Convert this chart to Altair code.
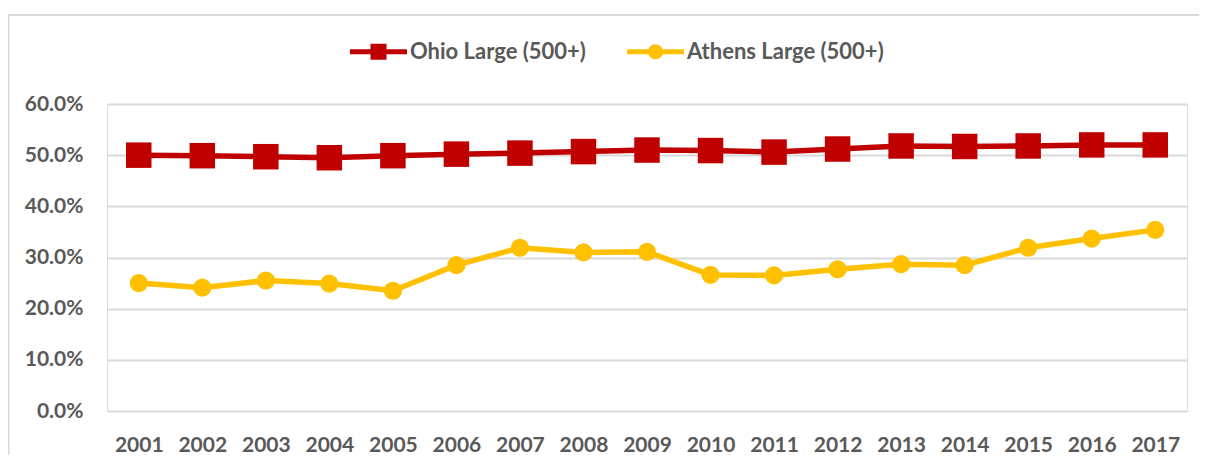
import altair as alt
import pandas as pd

years = [str(y) for y in range(2001, 2018)]
ohio = [50.0, 49.9, 49.7, 49.5, 49.9, 50.2, 50.4, 50.7, 51.0, 50.9, 50.6, 51.2, 51.8, 51.7, 51.8, 52.0, 52.0]
athens = [25.0, 24.1, 25.5, 24.9, 23.5, 28.5, 31.9, 31.0, 31.1, 26.6, 26.5, 27.7, 28.7, 28.5, 31.9, 33.7, 35.4]
series_names = ["Ohio Large (500+)", "Athens Large (500+)"]
series_colors = ["#C00000", "#FFC000"]
y_ticks = [0, 0.1, 0.2, 0.3, 0.4, 0.5, 0.6]

rows = []
for name, vals in zip(series_names, [ohio, athens]):
    for yr, v in zip(years, vals):
        rows.append({"year": yr, "value": v / 100.0, "series": name})
df = pd.DataFrame(rows)

FONT = "Lato"
TXT = "#595959"

# legend symbols: line segment + marker
sq_path = ("M-1,-0.0877 H1 V0.0877 H-1 Z "
           "M-0.281,-0.281 H0.281 V0.281 H-0.281 Z")
ci_path = ("M-1,-0.0877 H1 V0.0877 H-1 Z "
           "M0.263,0 A0.263,0.263 0 1,1 -0.263,0 A0.263,0.263 0 1,1 0.263,0 Z")

x_enc = alt.X("year:N", sort=years, scale=alt.Scale(type="point", padding=0.5),
              axis=alt.Axis(title=None, labelAngle=0, ticks=False, domain=False, grid=False,
                            labelFont=FONT, labelFontSize=21, labelFontWeight="bold",
                            labelColor=TXT, labelPadding=23))
y_enc = alt.Y("value:Q", scale=alt.Scale(domain=[0, 0.6], nice=False),
              axis=alt.Axis(title=None, values=y_ticks, format=".1%", ticks=False, domain=False,
                            grid=True, gridColor="#d9d9d9", gridWidth=2,
                            labelFont=FONT, labelFontSize=21, labelFontWeight="bold",
                            labelColor=TXT, labelPadding=24))

base = alt.Chart(df)

leg = alt.Legend(title=None, orient="none", legendX=243, legendY=-81, direction="horizontal",
                 symbolSize=3249, symbolStrokeWidth=0, symbolOpacity=1, labelOffset=3,
                 columnPadding=41, padding=0, labelFont=FONT, labelFontSize=22,
                 labelFontWeight="bold", labelColor=TXT, labelLimit=400)

legend_layer = base.mark_point(filled=True, opacity=0).encode(
    x=x_enc, y=y_enc,
    color=alt.Color("series:N", scale=alt.Scale(domain=series_names, range=series_colors), legend=leg),
    shape=alt.Shape("series:N", scale=alt.Scale(domain=series_names, range=[sq_path, ci_path]), legend=leg),
)

ohio_line = base.transform_filter(alt.datum.series == series_names[0]).mark_line(
    color=series_colors[0], strokeWidth=5.5).encode(x=x_enc, y=y_enc)
athens_line = base.transform_filter(alt.datum.series == series_names[1]).mark_line(
    color=series_colors[1], strokeWidth=5.5).encode(x=x_enc, y=y_enc)
ohio_pts = base.transform_filter(alt.datum.series == series_names[0]).mark_square(
    color=series_colors[0], size=650, opacity=1).encode(x=x_enc, y=y_enc)
athens_pts = base.transform_filter(alt.datum.series == series_names[1]).mark_circle(
    color=series_colors[1], size=330, opacity=1).encode(x=x_enc, y=y_enc)

frame = pd.DataFrame({"b": [0]})
border_top = alt.Chart(frame).mark_rule(color="#d9d9d9", strokeWidth=2).encode(
    x=alt.value(-99), x2=alt.value(1200), y=alt.value(-89))
border_left = alt.Chart(frame).mark_rule(color="#d9d9d9", strokeWidth=2).encode(
    x=alt.value(-98.5), y=alt.value(-90), y2=alt.value(600))

chart = alt.layer(border_top, border_left, ohio_line, athens_line, ohio_pts, athens_pts,
                  legend_layer).properties(
    width=1080, height=307,
    autosize=alt.AutoSizeParams(type="none"),
    padding={"left": 99, "top": 96, "right": 12, "bottom": 44},
).configure_view(stroke=None).configure(background="white")

chart.save("out.html", embed_options={"renderer": "svg", "actions": False})
